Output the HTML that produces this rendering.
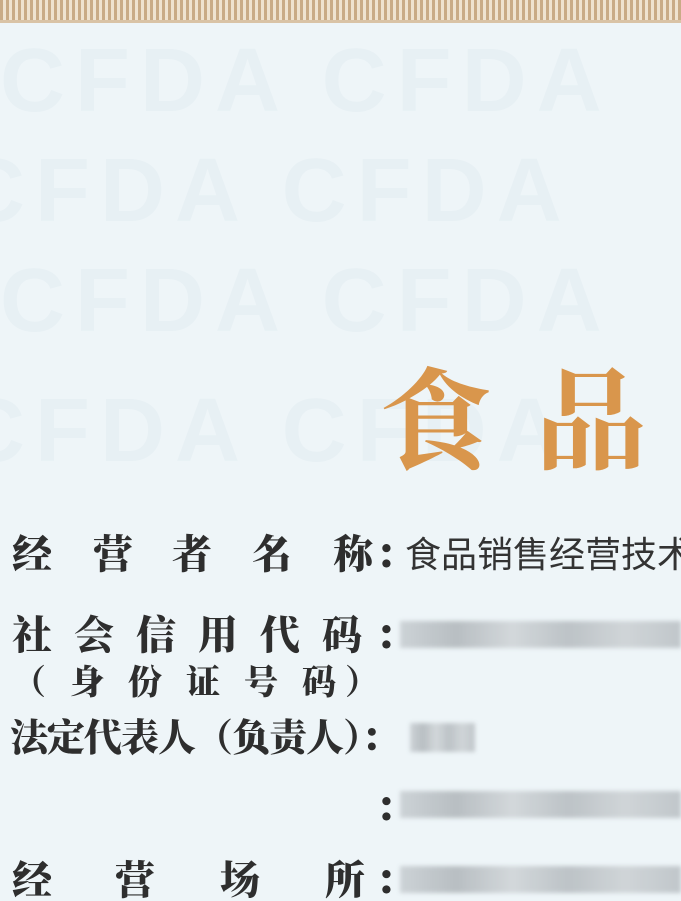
<!DOCTYPE html>
<html><head><meta charset="utf-8">
<style>
html,body{margin:0;padding:0}
body{width:681px;height:901px;overflow:hidden}
#frame{width:681px;height:901px;position:relative;overflow:hidden;background:#eef5f8;
font-family:"Liberation Serif","Noto Serif CJK SC",serif}
.border{position:absolute;left:0;top:0;width:681px;height:20px;
background:repeating-linear-gradient(90deg,#c9ab86 0 3px,#efe3d0 3px 6px);}
.border2{position:absolute;left:0;top:20px;width:681px;height:3px;background:#d9c3a6}
.wm{position:absolute;color:#e7f0f4;font:bold 90px "Liberation Sans",sans-serif;letter-spacing:10px;white-space:nowrap}
.big{position:absolute;color:#d9964c;font-size:112px;font-weight:700;font-family:"Noto Serif CJK SC",serif;line-height:1}
.c{position:absolute;color:#2e2e2e;font-weight:900;font-family:"Noto Serif CJK SC",serif;line-height:1}
.blur{position:absolute;background:linear-gradient(90deg,#c9cfd3,#b3b9bd 20%,#d0d5d8 40%,#b8bec2 60%,#cdd2d5 80%,#bcc2c6);filter:blur(2px);opacity:.9}
.val{position:absolute;color:#333;font-size:36px;font-family:"Noto Sans CJK SC",sans-serif;line-height:1;white-space:nowrap}
</style></head><body>
<div id="frame">
<div class="border"></div>
<div class="border2"></div>
<div class="wm" style="left:0;top:30px">CFDA CFDA</div>
<div class="wm" style="left:-40px;top:140px">CFDA CFDA</div>
<div class="wm" style="left:0;top:250px">CFDA CFDA</div>
<div class="wm" style="left:-40px;top:380px">CFDA CFDA</div>

<div class="big" style="left:380px;top:358px">食</div>
<div class="big" style="left:535px;top:358px">品</div>

<div>
<span class="c" style="font-size:40px;left:12px;top:532px">经</span>
<span class="c" style="font-size:40px;left:93px;top:532px">营</span>
<span class="c" style="font-size:40px;left:172px;top:532px">者</span>
<span class="c" style="font-size:40px;left:252px;top:532px">名</span>
<span class="c" style="font-size:40px;left:333px;top:532px">称</span>
<span class="c" style="font-size:40px;left:375px;top:532px">：</span>
</div>
<div class="val" style="left:405px;top:534px">食品销售经营技术</div>

<div>
<span class="c" style="font-size:40px;left:12px;top:613px">社</span>
<span class="c" style="font-size:40px;left:74px;top:613px">会</span>
<span class="c" style="font-size:40px;left:136px;top:613px">信</span>
<span class="c" style="font-size:40px;left:198px;top:613px">用</span>
<span class="c" style="font-size:40px;left:260px;top:613px">代</span>
<span class="c" style="font-size:40px;left:322px;top:613px">码</span>
<span class="c" style="font-size:40px;left:375px;top:613px">：</span>
</div>
<div class="blur" style="left:400px;top:621px;width:281px;height:27px"></div>

<div>
<span class="c" style="font-size:34px;left:12px;top:663px">（</span>
<span class="c" style="font-size:34px;left:70px;top:663px">身</span>
<span class="c" style="font-size:34px;left:128px;top:663px">份</span>
<span class="c" style="font-size:34px;left:186px;top:663px">证</span>
<span class="c" style="font-size:34px;left:244px;top:663px">号</span>
<span class="c" style="font-size:34px;left:302px;top:663px">码</span>
<span class="c" style="font-size:34px;left:345px;top:663px">）</span>
</div>

<div class="c" style="font-size:38px;left:10px;top:716px;letter-spacing:-1px;white-space:nowrap">法定代表人（负责人）：</div>
<div class="blur" style="left:410px;top:723px;width:65px;height:29px"></div>

<span class="c" style="font-size:40px;left:375px;top:785px">：</span>
<div class="blur" style="left:400px;top:791px;width:281px;height:27px"></div>

<div>
<span class="c" style="font-size:40px;left:12px;top:858px">经</span>
<span class="c" style="font-size:40px;left:115px;top:858px">营</span>
<span class="c" style="font-size:40px;left:220px;top:858px">场</span>
<span class="c" style="font-size:40px;left:325px;top:858px">所</span>
<span class="c" style="font-size:40px;left:375px;top:858px">：</span>
</div>
<div class="blur" style="left:400px;top:866px;width:281px;height:27px"></div>
</div>
</body></html>
